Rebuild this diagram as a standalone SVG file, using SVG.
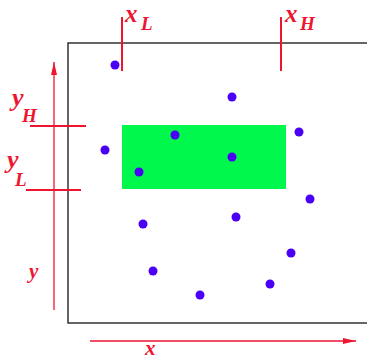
<svg xmlns="http://www.w3.org/2000/svg" width="367" height="359" viewBox="0 0 367 359">
<defs>
<style>
.red{stroke:#ee1530;stroke-width:2;fill:none}
.ax{stroke:#ee1530;stroke-width:1.3;fill:none}
.lab{font-family:"Liberation Serif",serif;font-style:italic;font-weight:bold;fill:#ee1530}
.big{font-size:26px}
.top{font-size:25px}
.sub{font-size:19px}
.dot{fill:#4a00f5}
</style>
<marker id="ah" markerWidth="14" markerHeight="8" refX="13" refY="4" orient="auto" markerUnits="userSpaceOnUse">
<path d="M0,1 L13,4 L0,7 Z" fill="#ee1530"/>
</marker>
</defs>
<rect width="367" height="359" fill="#fff"/>
<rect id="frame" x="68" y="43" width="310" height="280" fill="none" stroke="#333" stroke-width="1.5"/>
<rect id="region" x="122" y="125" width="164" height="64" fill="#00f84c"/>
<g id="connectors">
<line class="ax" x1="54" y1="310" x2="54" y2="62" marker-end="url(#ah)"/>
<line class="ax" x1="90" y1="341" x2="356" y2="341" marker-end="url(#ah)"/>
<line class="red" x1="122" y1="17" x2="122" y2="71"/>
<line class="red" x1="281" y1="17" x2="281" y2="71"/>
<line class="red" x1="30" y1="126" x2="86" y2="126"/>
<line class="red" x1="26" y1="190" x2="81" y2="190"/>
</g>
<g id="labels">
<text class="lab top" x="125" y="22">x<tspan class="sub" x="141" y="30">L</tspan></text>
<text class="lab top" x="285" y="22">x<tspan class="sub" x="300" y="30">H</tspan></text>
<text class="lab big" x="12" y="106">y<tspan class="sub" x="22" y="122">H</tspan></text>
<text class="lab big" x="7" y="168">y<tspan class="sub" x="15" y="186">L</tspan></text>
<text class="lab" x="29" y="278" font-size="21">y</text>
<text class="lab" x="145" y="355" font-size="21">x</text>
</g>
<g id="points">
<circle class="dot" cx="115" cy="65" r="4.5"/>
<circle class="dot" cx="232" cy="97" r="4.5"/>
<circle class="dot" cx="105" cy="150" r="4.5"/>
<circle class="dot" cx="139" cy="172" r="4.5"/>
<circle class="dot" cx="175" cy="135" r="4.5"/>
<circle class="dot" cx="232" cy="157" r="4.5"/>
<circle class="dot" cx="299" cy="132" r="4.5"/>
<circle class="dot" cx="310" cy="199" r="4.5"/>
<circle class="dot" cx="143" cy="224" r="4.5"/>
<circle class="dot" cx="236" cy="217" r="4.5"/>
<circle class="dot" cx="153" cy="271" r="4.5"/>
<circle class="dot" cx="291" cy="253" r="4.5"/>
<circle class="dot" cx="270" cy="284" r="4.5"/>
<circle class="dot" cx="200" cy="295" r="4.5"/>
</g>
</svg>
